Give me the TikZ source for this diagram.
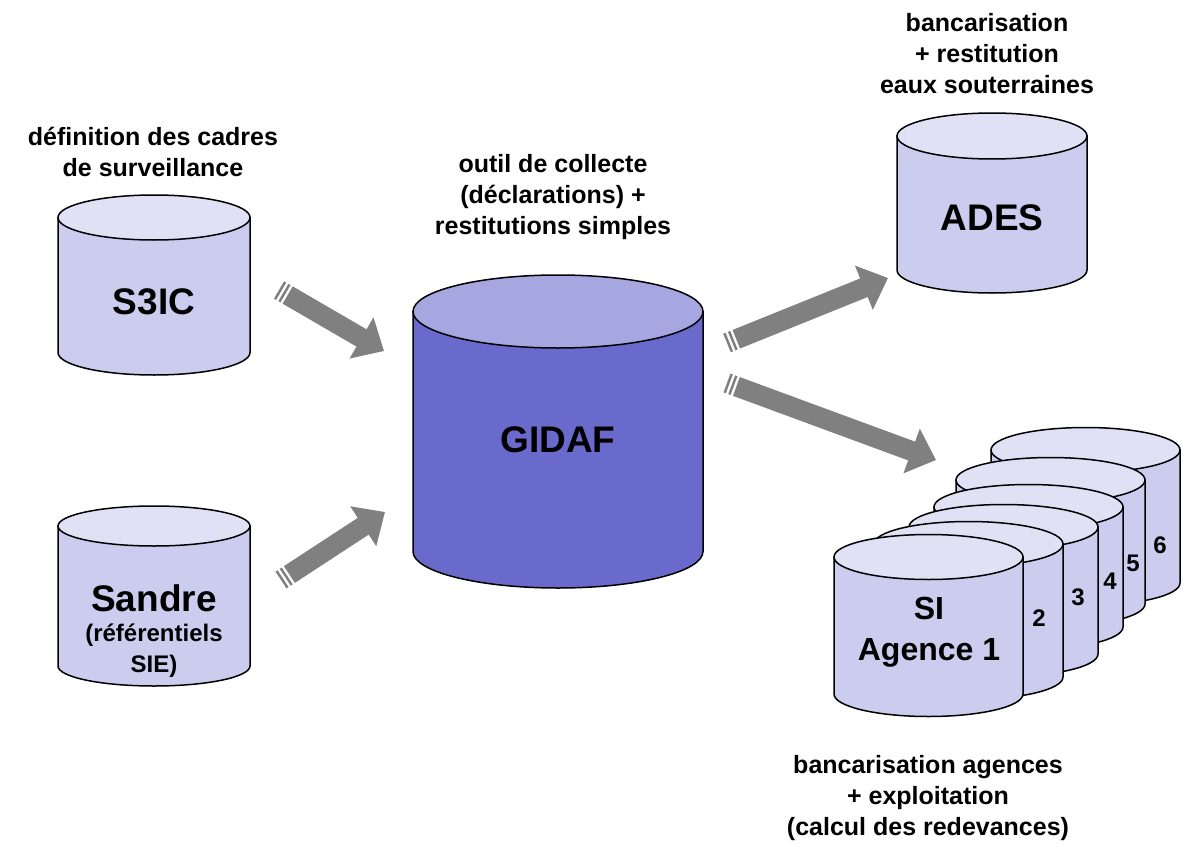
\documentclass[tikz,border=0pt]{standalone}
\usepackage{fontspec}
\setmainfont{Liberation Sans}
\usetikzlibrary{arrows.meta, calc}

\definecolor{cylbody}{RGB}{204,204,238}
\definecolor{cyltop}{RGB}{225,225,245}
\definecolor{gidafbody}{RGB}{106,106,204}
\definecolor{gidaftop}{RGB}{166,166,224}
\definecolor{arrowgray}{RGB}{128,128,128}

\tikzset{
	cylline/.style={draw=black, line width=1.5pt},
	fatarrow/.style={draw=arrowgray, line width=20pt, -{Triangle[length=26pt, width=46pt]}},
	stripe/.style={draw=arrowgray, line width=20pt},
	smalltext/.style={font=\fontsize{25}{31}\selectfont\bfseries, align=center},
	bigtext/.style={font=\fontsize{37}{40}\selectfont\bfseries, align=center},
}

% cylinder: name, centre x, top y, bottom y, x radius, y radius, colour prefix
\newcommand{\dbcyl}[7]{%
	\filldraw[cylline, fill=#7body] (#2-#5, #3) -- (#2-#5, #4) arc[start angle=180, end angle=0, x radius=#5, y radius=#6] -- (#2+#5, #3) -- cycle;
	\filldraw[cylline, fill=#7top] (#2, #3) ellipse[x radius=#5, y radius=#6];
	\coordinate (#1) at (#2, {(#3+#4)/2});
}
% striped block arrow between two named points
\newcommand{\stripedarrow}[2]{%
	\draw[stripe] (#1) -- ($(#1)!2.5pt!(#2)$);
	\draw[stripe] ($(#1)!5pt!(#2)$) -- ($(#1)!7.5pt!(#2)$);
	\draw[fatarrow] ($(#1)!10pt!(#2)$) -- (#2);
}

\begin{document}
\begin{tikzpicture}[x=1pt, y=-1pt]
	\useasboundingbox (0, 0) rectangle (1185, 856);
	% Cylinders:
	\dbcyl{s3ic}{154}{217.5}{352.5}{96}{22.5}{cyl}
	\dbcyl{sandre}{154}{526}{666}{96}{20}{cyl}
	\dbcyl{gidaf}{558}{311.5}{551.5}{145}{36.5}{gidaf}
	\dbcyl{ades}{992}{136}{270}{95}{23}{cyl}
	\dbcyl{si6}{1085.5}{450}{583}{94.5}{22.5}{cyl}
	\dbcyl{si5}{1050.5}{480}{604}{94.5}{22.5}{cyl}
	\dbcyl{si4}{1028.5}{507}{627}{94.5}{22.5}{cyl}
	\dbcyl{si3}{1003.5}{527}{654}{94.5}{22.5}{cyl}
	\dbcyl{si2}{968.5}{544}{677}{94.5}{22.5}{cyl}
	\dbcyl{si1}{928.5}{557}{694}{94.5}{22.5}{cyl}

	% Labels in the cylinders:
	\node[bigtext] (s3iclabel) at (154, 302) {S3IC};
	\node[bigtext] (sandrelabel) at (154, 598) {Sandre};
	\node[font=\fontsize{24}{31}\selectfont\bfseries, align=center] (sandresub) at (154, 651) {(référentiels\\SIE)};
	\node[bigtext] (gidaflabel) at (558, 440) {GIDAF};
	\node[bigtext] (adeslabel) at (992, 218) {ADES};
	\node[font=\fontsize{32}{41}\selectfont\bfseries, align=center] (si1label) at (929, 632) {SI\\Agence 1};
	\node[font=\fontsize{24}{28}\selectfont\bfseries] (si2label) at (1039, 618) {2};
	\node[font=\fontsize{24}{28}\selectfont\bfseries] (si3label) at (1078, 597) {3};
	\node[font=\fontsize{24}{28}\selectfont\bfseries] (si4label) at (1110, 581) {4};
	\node[font=\fontsize{24}{28}\selectfont\bfseries] (si5label) at (1133, 563) {5};
	\node[font=\fontsize{24}{28}\selectfont\bfseries] (si6label) at (1160, 545) {6};

	% Captions:
	\node[smalltext] (s3iccap) at (153, 152) {définition des cadres\\de surveillance};
	\node[smalltext] (gidafcap) at (553, 197) {outil de collecte\\(déclarations) +\\restitutions simples};
	\node[smalltext] (adescap) at (987, 54) {bancarisation\\+ restitution\\eaux souterraines};
	\node[smalltext] (sicap) at (928, 798) {bancarisation agences\\+ exploitation\\(calcul des redevances)};

	% Arrows:
	\coordinate (s3ic out) at (279, 290);
	\coordinate (gidaf in1) at (384, 351);
	\coordinate (sandre out) at (281, 580);
	\coordinate (gidaf in2) at (385, 512);
	\coordinate (gidaf out1) at (727, 343);
	\coordinate (ades in) at (888, 278);
	\coordinate (gidaf out2) at (727, 383);
	\coordinate (si in) at (936, 460);
	\stripedarrow{s3ic out}{gidaf in1}
	\stripedarrow{sandre out}{gidaf in2}
	\stripedarrow{gidaf out1}{ades in}
	\stripedarrow{gidaf out2}{si in}
\end{tikzpicture}
\end{document}
